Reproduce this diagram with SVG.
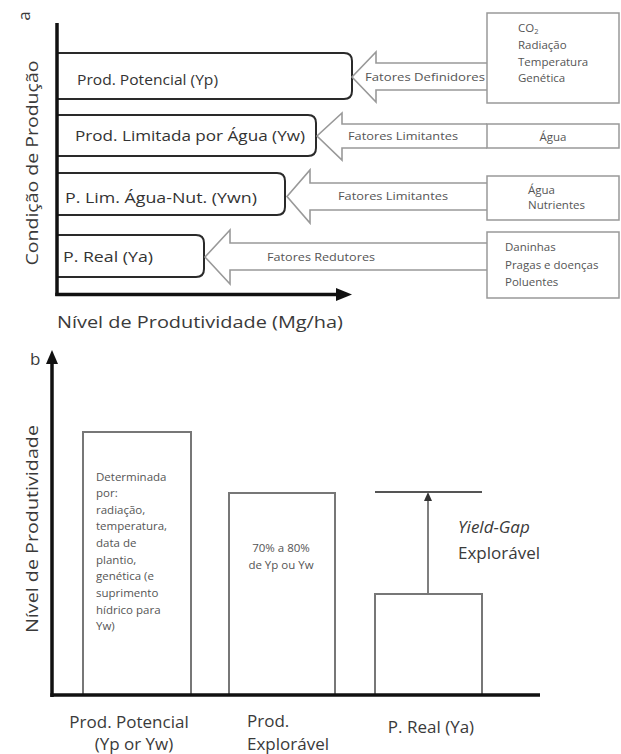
<svg xmlns="http://www.w3.org/2000/svg" width="621" height="754" viewBox="0 0 621 754">
<style>
text{font-family:"Open Sans","Liberation Sans",sans-serif;fill:#333}
.lab{font-size:14px}
.ax{font-size:17px;fill:#3a3a3a}
.sm{font-size:10px;fill:#555}
.rt{font-size:11.5px;fill:#555}
.cond{fill:#fff;stroke:#2a2a2a;stroke-width:2}
.barr{fill:#fff;stroke:#777;stroke-width:2}
.blk{fill:#fff;stroke:#999;stroke-width:1.6;stroke-linejoin:miter}
.fbox{fill:#fff;stroke:#999;stroke-width:1.5}
.axis{stroke:#111;stroke-width:3.5;fill:none}
</style>

<!-- Panel a -->
<text x="36" y="22" class="ax" font-size="14" transform="rotate(-90 30 22)" text-anchor="middle">a</text>
<text x="38" y="163" class="ax" transform="rotate(-90 38 163)" text-anchor="middle" textLength="205" lengthAdjust="spacingAndGlyphs">Condição de Produção</text>

<g id="box-yp"><path class="cond" d="M57,53 H344 Q352,53 352,61 V91 Q352,99 344,99 H57"/><text class="lab" x="77" y="85" textLength="141" lengthAdjust="spacingAndGlyphs">Prod. Potencial (Yp)</text></g>
<g id="box-yw"><path class="cond" d="M57,115 H308 Q316,115 316,123 V148 Q316,156 308,156 H57"/><text class="lab" x="75" y="141" textLength="230" lengthAdjust="spacingAndGlyphs">Prod. Limitada por Água (Yw)</text></g>
<g id="box-ywn"><path class="cond" d="M57,173 H277 Q285,173 285,181 V207 Q285,215 277,215 H57"/><text class="lab" x="65" y="203" textLength="192" lengthAdjust="spacingAndGlyphs">P. Lim. Água-Nut. (Ywn)</text></g>
<g id="box-ya"><path class="cond" d="M57,235 H196 Q204,235 204,243 V269 Q204,277 196,277 H57"/><text class="lab" x="63" y="262" textLength="90" lengthAdjust="spacingAndGlyphs">P. Real (Ya)</text></g>

<g id="axes-a">
<line class="axis" x1="57" y1="23" x2="57" y2="296"/>
<line class="axis" x1="55.3" y1="294.5" x2="338" y2="294.5"/>
<path d="M336,288 L352,294.5 L336,301 Z" fill="#111"/>
</g>
<text class="ax" x="57" y="328" textLength="286" lengthAdjust="spacingAndGlyphs">Nível de Produtividade (Mg/ha)</text>

<g id="connectors">
<path class="blk" d="M487,63 L376,63 L376,52 L352,77 L376,102 L376,90 L487,90"/>
<path class="blk" d="M487,124 L342,124 L342,113 L317,136 L342,160 L342,148 L487,148"/>
<path class="blk" d="M487,183 L310,183 L310,170 L287,196.5 L310,223 L310,210 L487,210"/>
<path class="blk" d="M487,243 L230,243 L230,230 L205,257 L230,284 L230,270 L487,270"/>
<line x1="428" y1="594" x2="428" y2="496" stroke="#555" stroke-width="1.5"/>
<path d="M424,501 L428,492 L432,501 Z" fill="#333"/>
</g>
<text class="sm" x="365" y="81" textLength="120" lengthAdjust="spacingAndGlyphs">Fatores Definidores</text>
<text class="sm" x="348" y="140" textLength="110" lengthAdjust="spacingAndGlyphs">Fatores Limitantes</text>
<text class="sm" x="338" y="200" textLength="110" lengthAdjust="spacingAndGlyphs">Fatores Limitantes</text>
<text class="sm" x="267" y="261" textLength="108" lengthAdjust="spacingAndGlyphs">Fatores Redutores</text>

<g id="f-definidores"><rect class="fbox" x="487" y="13" width="132" height="90"/>
<text class="rt" x="518" y="32">CO<tspan font-size="7.5" dy="2">2</tspan></text>
<text class="rt" x="518" y="49">Radiação</text>
<text class="rt" x="518" y="66">Temperatura</text>
<text class="rt" x="518" y="82">Genética</text></g>
<g id="f-agua"><rect class="fbox" x="487" y="124" width="132" height="24"/><text class="rt" x="553" y="141" text-anchor="middle">Água</text></g>
<g id="f-agua-nut"><rect class="fbox" x="487" y="176" width="132" height="44"/><text class="rt" x="528" y="194">Água</text><text class="rt" x="528" y="209">Nutrientes</text></g>
<g id="f-redutores"><rect class="fbox" x="487" y="232" width="132" height="66"/><text class="rt" x="505" y="251">Daninhas</text><text class="rt" x="505" y="269">Pragas e doenças</text><text class="rt" x="505" y="286">Poluentes</text></g>

<!-- Panel b -->
<text class="ax" x="30" y="365" font-size="14">b</text>
<text class="ax" x="38" y="529" transform="rotate(-90 38 529)" text-anchor="middle" textLength="208" lengthAdjust="spacingAndGlyphs">Nível de Produtividade</text>

<g id="bar-yp"><rect class="barr" x="83" y="432" width="108" height="263"/>
<text class="rt" x="96" y="481">Determinada</text>
<text class="rt" x="96" y="497">por:</text>
<text class="rt" x="96" y="514">radiação,</text>
<text class="rt" x="96" y="530">temperatura,</text>
<text class="rt" x="96" y="547">data de</text>
<text class="rt" x="96" y="564">plantio,</text>
<text class="rt" x="96" y="580">genética (e</text>
<text class="rt" x="96" y="597">suprimento</text>
<text class="rt" x="96" y="614">hídrico para</text>
<text class="rt" x="96" y="630">Yw)</text></g>
<g id="bar-exp"><rect class="barr" x="229" y="493" width="106" height="202"/>
<text class="rt" x="281" y="552" text-anchor="middle">70% a 80%</text>
<text class="rt" x="281" y="569" text-anchor="middle">de Yp ou Yw</text></g>
<g id="bar-ya"><rect class="barr" x="375" y="594" width="107" height="101"/></g>
<line x1="375" y1="492" x2="482" y2="492" stroke="#555" stroke-width="2"/>
<text class="ax" x="458" y="533" font-style="italic">Yield-Gap</text>
<text class="ax" x="458" y="559">Explorável</text>

<g id="axes-b">
<line class="axis" x1="52" y1="362" x2="52" y2="697"/>
<path d="M46,364 L52,350 L58,364 Z" fill="#111"/>
<line class="axis" x1="50.3" y1="695" x2="540" y2="695"/>
</g>

<text class="ax" font-size="15" x="129" y="728" text-anchor="middle">Prod. Potencial</text>
<text class="ax" font-size="14" x="134" y="750" text-anchor="middle">(Yp or Yw)</text>
<text class="ax" font-size="15" x="247" y="727">Prod.</text>
<text class="ax" font-size="15" x="247" y="750">Explorável</text>
<text class="ax" font-size="15" x="431" y="733" text-anchor="middle">P. Real (Ya)</text>
</svg>
